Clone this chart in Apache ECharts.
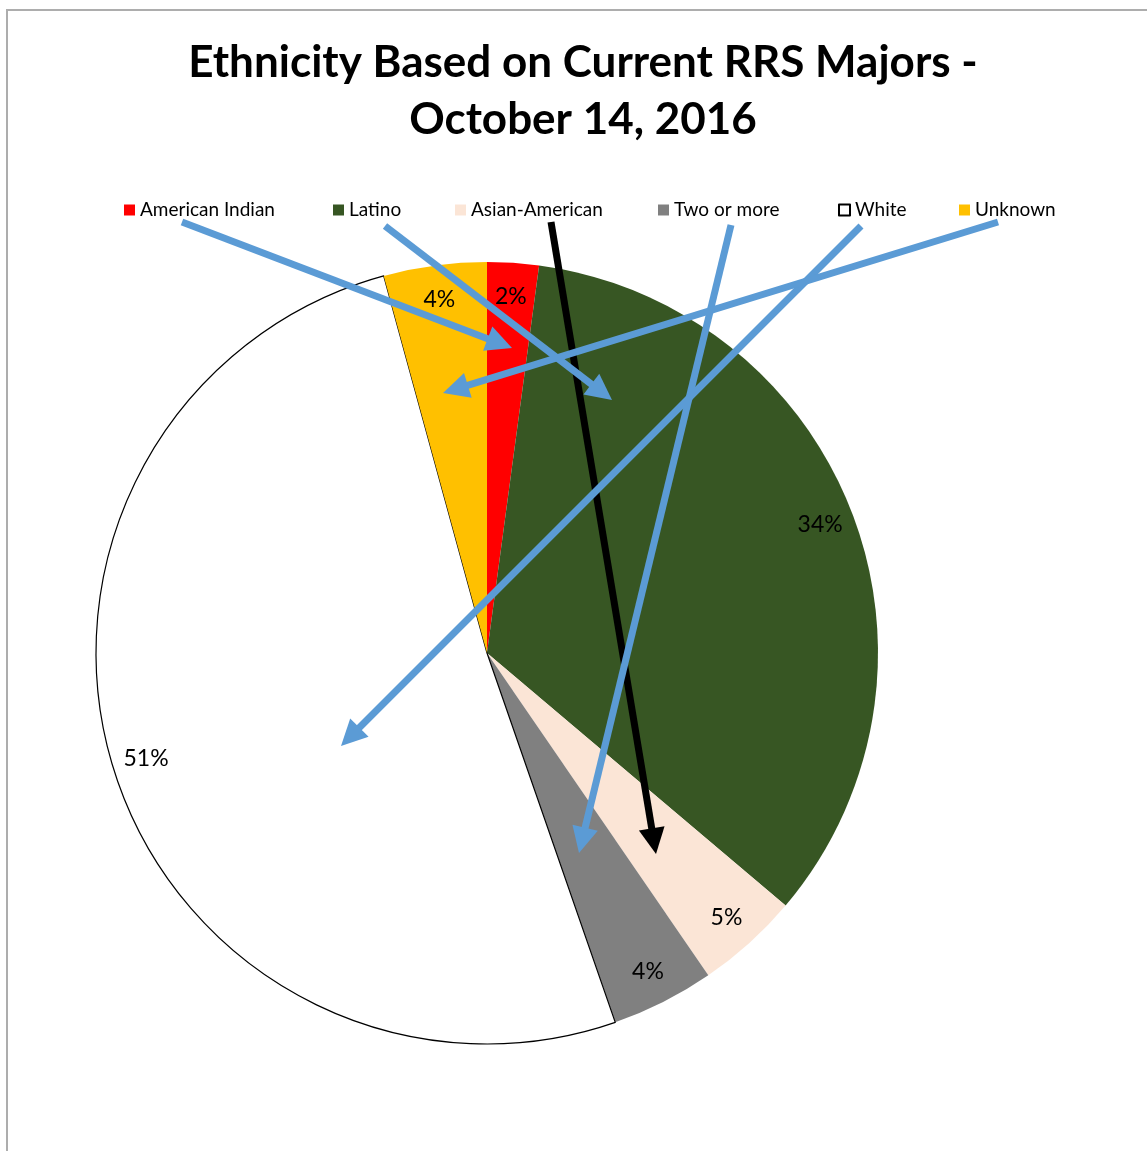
<!DOCTYPE html>
<html><head><meta charset="utf-8">
<script src="https://cdn.jsdelivr.net/npm/echarts@6/dist/echarts.min.js"></script>
<style>html,body{margin:0;padding:0;background:#fff}#c{width:1147px;height:1151px}</style>
</head><body><div id="c"></div>
<script>
const categories = ['American Indian', 'Latino', 'Asian-American', 'Two or more', 'White', 'Unknown'];
const counts = [1, 16, 2, 2, 24, 2];
const labelTexts = ['2%', '34%', '5%', '4%', '51%', '4%'];
const colors = ['#FF0000', '#375623', '#FBE5D6', '#808080', '#FFFFFF', '#FFC000'];
const legendLeft = [124, 333, 455, 658, 838, 959];
const titleLines = ['Ethnicity Based on Current RRS Majors -', 'October 14, 2016'];
// annotation arrows drawn over the chart (from legend entry to slice)
const arrows = [
  { from: [551, 222], to: [656, 854], color: '#000000' },
  { from: [182, 222], to: [512, 348], color: '#5B9BD5' },
  { from: [385, 226], to: [612, 400], color: '#5B9BD5' },
  { from: [731, 225], to: [579, 853], color: '#5B9BD5' },
  { from: [861, 226], to: [341, 746], color: '#5B9BD5' },
  { from: [998, 222], to: [443, 393], color: '#5B9BD5' }
];

const FONT = 'Lato, "Open Sans", sans-serif';
const CX = 487, CY = 653, R = 391;

const chart = echarts.init(document.getElementById('c'), null, { renderer: 'canvas' });

const pieData = categories.map((n, i) => {
  const d = { name: n, value: counts[i], itemStyle: { color: colors[i] } };
  if (n === 'White') { d.itemStyle.borderColor = '#000'; d.itemStyle.borderWidth = 1.2; }
  return d;
});
const labelData = categories.map((n, i) => ({
  name: n, value: counts[i],
  itemStyle: { color: 'rgba(0,0,0,0)' },
  label: { formatter: labelTexts[i] }
}));

const legends = categories.map((n, i) => ({
  show: true,
  left: legendLeft[i],
  top: 200,
  padding: 0,
  orient: 'horizontal',
  icon: 'rect',
  itemWidth: 11,
  itemHeight: 11,
  itemGap: 0,
  selectedMode: false,
  textStyle: { fontFamily: FONT, fontSize: 19, color: '#000', lineHeight: 20 },
  data: [n === 'White'
    ? { name: n, itemStyle: { color: '#fff', borderColor: '#000', borderWidth: 2 } }
    : { name: n }]
}));

const graphics = [];
graphics.push({
  type: 'rect', z: 0, silent: true,
  shape: { x: 7, y: 10, width: 1200, height: 1200 },
  style: { fill: 'none', stroke: '#ADADAD', lineWidth: 2 }
});
const HEAD_LEN = 26, HEAD_W = 13, LW = 7;
arrows.forEach(a => {
  const dx = a.to[0] - a.from[0], dy = a.to[1] - a.from[1];
  const len = Math.sqrt(dx * dx + dy * dy);
  const ux = dx / len, uy = dy / len;
  const bx = a.to[0] - ux * HEAD_LEN, by = a.to[1] - uy * HEAD_LEN;
  const px = -uy, py = ux;
  graphics.push({
    type: 'line', z: 100, silent: true,
    shape: { x1: a.from[0], y1: a.from[1], x2: bx + ux * 2, y2: by + uy * 2 },
    style: { stroke: a.color, lineWidth: LW }
  });
  graphics.push({
    type: 'polygon', z: 100, silent: true,
    shape: { points: [[a.to[0], a.to[1]], [bx + px * HEAD_W, by + py * HEAD_W], [bx - px * HEAD_W, by - py * HEAD_W]] },
    style: { fill: a.color }
  });
});
graphics.push({
  type: 'text', z: 50, silent: true,
  x: 583, y: 34,
  style: {
    text: titleLines.join('\n'),
    font: 'bold 44px ' + FONT,
    fill: '#000',
    align: 'center',
    verticalAlign: 'top',
    lineHeight: 57
  }
});

chart.setOption({
  animation: false,
  backgroundColor: '#fff',
  legend: legends,
  graphic: graphics,
  series: [
    {
      type: 'pie',
      center: [CX, CY],
      radius: [0, R],
      startAngle: 90,
      clockwise: true,
      avoidLabelOverlap: false,
      silent: true,
      label: { show: false },
      labelLine: { show: false },
      emphasis: { disabled: true },
      data: pieData
    },
    {
      type: 'pie',
      center: [CX, CY],
      radius: [317, R],
      startAngle: 90,
      clockwise: true,
      avoidLabelOverlap: false,
      silent: true,
      z: 3,
      label: { show: true, position: 'inside', fontFamily: FONT, fontSize: 23, color: '#000' },
      labelLine: { show: false },
      emphasis: { disabled: true },
      data: labelData
    }
  ]
});
</script>
</body></html>
